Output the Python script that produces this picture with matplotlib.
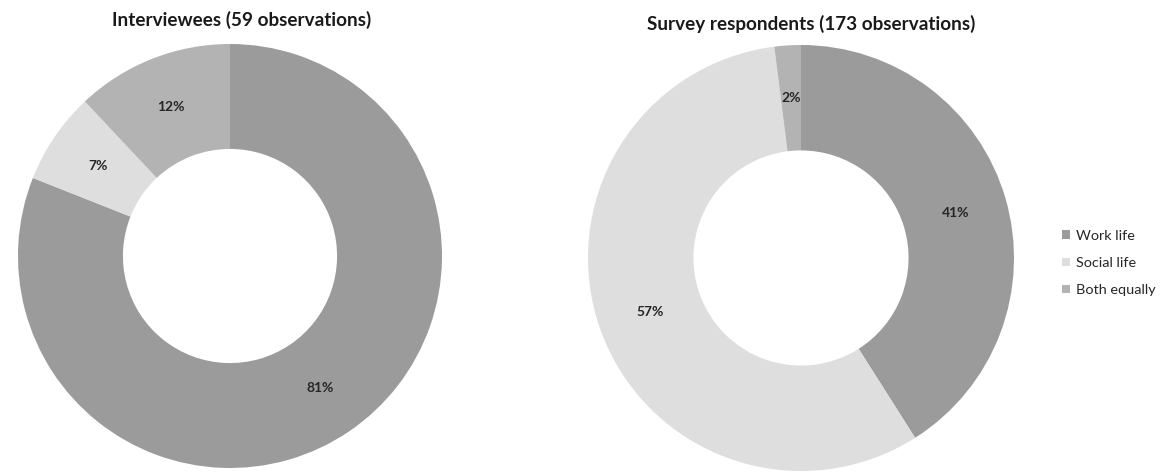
import matplotlib
matplotlib.use("Agg")
import matplotlib.pyplot as plt
from matplotlib.patches import Patch

# Which part of life matters most: shares per group (percent)
categories = ["Work life", "Social life", "Both equally"]
interviewees_pct = [81, 7, 12]
survey_pct = [41, 57, 2]
titles = ["Interviewees (59 observations)", "Survey respondents (173 observations)"]

colors = ["#9b9b9b", "#dedede", "#b3b3b3"]

plt.rcParams["font.family"] = ["Lato", "DejaVu Sans"]

W, H = 1164, 473
fig = plt.figure(figsize=(W / 100, H / 100), dpi=100)
fig.patch.set_facecolor("white")


def px_axes(cx, cy, r):
    """Square axes centred at pixel (cx, cy) from the top-left, radius r pixels."""
    return fig.add_axes([(cx - r) / W, (H - cy - r) / H, 2 * r / W, 2 * r / H])


def donut(ax, values):
    wedges, _, autotexts = ax.pie(
        values,
        colors=colors,
        startangle=90,
        counterclock=False,
        radius=1.0,
        autopct=lambda p: f"{p:.0f}%",
        pctdistance=0.755,
        wedgeprops=dict(width=0.495, edgecolor="none", linewidth=0),
        textprops=dict(fontsize=10, color="#262626", fontweight="bold"),
    )
    ax.set_xlim(-1, 1)
    ax.set_ylim(-1, 1)
    ax.set_aspect("equal")
    ax.axis("off")
    return wedges


ax1 = px_axes(230, 256, 212)
donut(ax1, interviewees_pct)
ax2 = px_axes(801, 258, 213)
donut(ax2, survey_pct)

fig.text(242 / W, 1 - 20 / H, titles[0], ha="center", va="center",
         fontsize=13.6, fontweight="bold", color="#1a1a1a")
fig.text(811 / W, 1 - 24 / H, titles[1], ha="center", va="center",
         fontsize=13.6, fontweight="bold", color="#1a1a1a")

handles = [Patch(facecolor=c, edgecolor="none") for c in colors]
fig.legend(handles, categories, loc="center left",
           bbox_to_anchor=(1056 / W, 1 - 263 / H), frameon=False,
           fontsize=10.4, handlelength=0.55, handleheight=0.55,
           handletextpad=0.4, labelspacing=1.05, borderaxespad=0,
           labelcolor="#262626")

fig.savefig("out.png", dpi=100, facecolor="white")
